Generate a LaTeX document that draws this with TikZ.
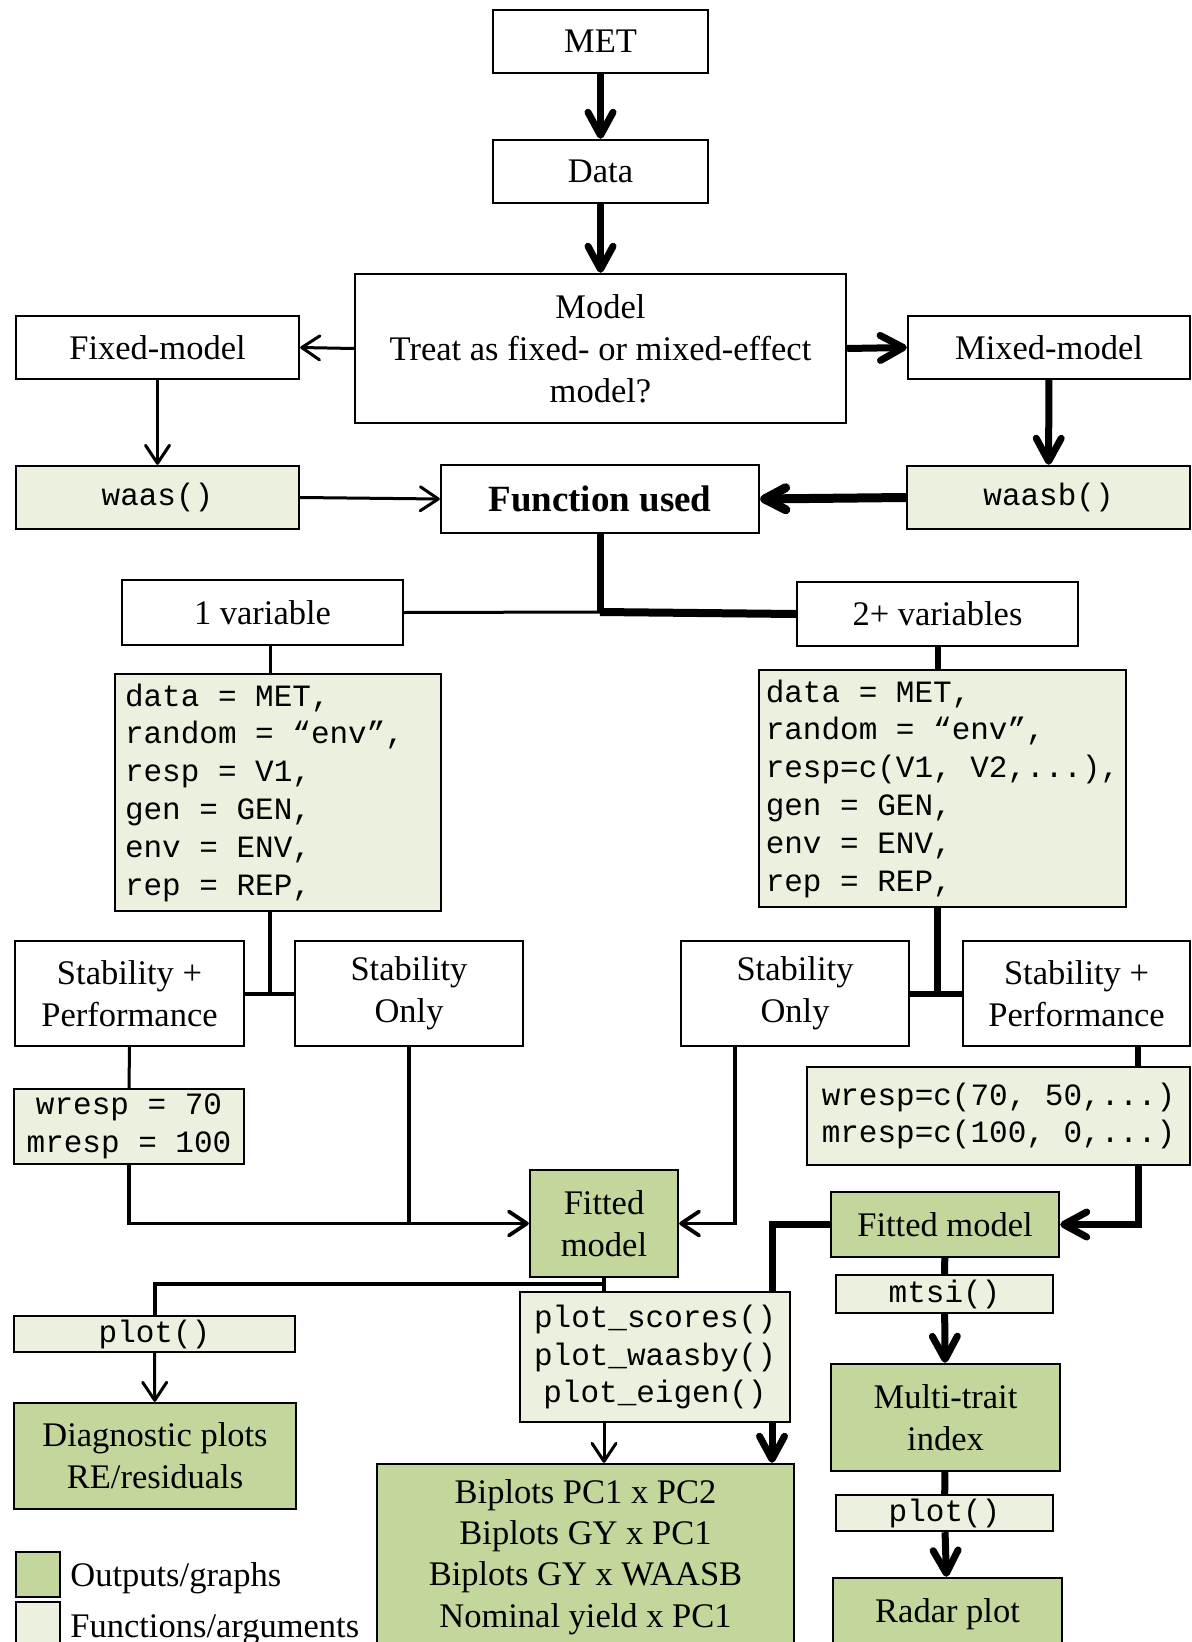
\documentclass[tikz,border=0pt]{standalone}
\usepackage{fontspec}
\setmainfont{Liberation Serif}
\setmonofont{Liberation Mono}
\usetikzlibrary{arrows.meta,calc}
\definecolor{outgreen}{HTML}{C3D69B}
\definecolor{funlight}{HTML}{EBF1DE}
\newcommand{\txtfont}{\fontsize{17.25pt}{21pt}\selectfont}
\newcommand{\codefnt}{\fontsize{15.5pt}{18.9pt}\selectfont\ttfamily}
\newcommand{\boldfnt}{\fontsize{18.5pt}{22pt}\selectfont\bfseries}
\begin{document}
\begin{tikzpicture}[x=0.5pt,y=-0.5pt,
  corners/.style n args={4}{minimum width={(#3-#1)*0.5pt}, minimum height={(#4-#2)*0.5pt}},
  boxbase/.style={draw, line width=1.2pt, inner sep=0pt, align=center},
  plainbox/.style={boxbase, fill=white, font=\txtfont},
  outbox/.style={boxbase, fill=outgreen, font=\txtfont},
  funbox/.style={boxbase, fill=funlight, font=\codefnt},
  lnA/.style={line width=1.5pt},
  lnB/.style={line width=2pt},
  lnC/.style={line width=3pt},
  lnD/.style={line width=3.5pt},
  arA/.style={line width=1.5pt, -{Straight Barb[length=9pt,width=12pt,round]}},
  arB/.style={line width=1.9pt, -{Straight Barb[length=9pt,width=12pt,round]}},
  arD/.style={line width=3.5pt, -{Straight Barb[length=11.5pt,width=12.5pt,round]}},
  arE/.style={line width=4.5pt, -{Straight Barb[length=10.5pt,width=11pt,round]}},
]
\useasboundingbox (0,0) rectangle (1192,1642);
\clip (0,0) rectangle (1192,1642);

% ---------- nodes (centre, then corners x1 y1 x2 y2) ----------
\node[plainbox, corners={493}{10}{708}{73}] (met) at (600.5,41.5) {MET};
\node[plainbox, corners={493}{140}{708}{203}] (data) at (600.5,171.5) {Data};
\node[plainbox, corners={355}{274}{846}{423}] (model) at (600.5,348.5) {Model\\Treat as fixed- or mixed-effect\\model?};
\node[plainbox, corners={16}{316}{299}{379}] (fixed) at (157.5,347.5) {Fixed-model};
\node[plainbox, corners={908}{316}{1190}{379}] (mixed) at (1049,347.5) {Mixed-model};
\node[funbox, corners={16}{466}{299}{529}] (waas) at (157.5,497.5) {waas()};
\node[funbox, corners={907}{466}{1190}{529}] (waasb) at (1048.5,497.5) {waasb()};
\node[plainbox, font=\boldfnt, corners={441}{465}{759}{533}] (func) at (600,499) {Function used};
\node[plainbox, corners={122}{580}{403}{645}] (var1) at (262.5,612.5) {1 variable};
\node[plainbox, corners={797}{582}{1078}{646}] (var2) at (937.5,614) {2+ variables};
\node[funbox, align=left, corners={115}{674}{441}{911}] (code1) at (278,792.5)
  {\makebox[153pt][l]{data = MET,}\\random = “env”,\\resp = V1,\\gen = GEN,\\env = ENV,\\rep = REP,};
\node[funbox, align=left, corners={759}{670}{1126}{907}] (code2) at (942.5,788.5)
  {\makebox[175pt][l]{data = MET,}\\random = “env”,\\resp=c(V1, V2,...),\\gen = GEN,\\env = ENV,\\rep = REP,};
\node[plainbox, corners={15}{941}{244}{1046}] (sp1) at (129.5,993.5) {Stability +\\Performance};
\node[plainbox, corners={295}{941}{523}{1046}] (so1) at (409,993.5) {Stability\\Only};
\node[plainbox, corners={681}{941}{909}{1046}] (so2) at (795,993.5) {Stability\\Only};
\node[plainbox, corners={963}{941}{1190}{1046}] (sp2) at (1076.5,993.5) {Stability +\\Performance};
\node[funbox, corners={14}{1089}{244}{1164}] (w1) at (129,1126.5) {wresp = 70\\mresp = 100};
\node[funbox, corners={807}{1067}{1190}{1165}] (w2) at (998.5,1116) {wresp=c(70, 50,...)\\mresp=c(100, 0,...)};
\node[outbox, corners={530}{1170}{678}{1277}] (fit1) at (604,1223.5) {Fitted\\model};
\node[outbox, corners={831}{1192}{1059}{1257}] (fit2) at (945,1224.5) {Fitted model};
\node[funbox, corners={836}{1275}{1053}{1313}] (mtsi) at (944.5,1294) {mtsi()};
\node[funbox, corners={14}{1316}{295}{1352}] (plotL) at (154.5,1334) {plot()};
\node[funbox, corners={520}{1291}{790}{1421}] (pbox) at (655,1357) {plot\_scores()\\plot\_waasby()\\plot\_eigen()};
\node[outbox, corners={14}{1403}{296}{1509}] (diag) at (155,1456) {Diagnostic plots\\RE/residuals};
\node[outbox, font=\fontsize{17.25pt}{20.7pt}\selectfont, corners={377}{1464}{794}{1650}] (bip) at (585.5,1557)
  {Biplots PC1 x PC2\\Biplots GY x PC1\\Biplots GY x WAASB\\Nominal yield x PC1};
\node[outbox, corners={831}{1364}{1060}{1471}] (mti) at (945.5,1417.5) {Multi-trait\\index};
\node[funbox, corners={836}{1495}{1053}{1531}] (plotR) at (944.5,1513) {plot()};
\node[outbox, corners={833}{1578}{1062}{1650}] (radar) at (947.5,1614) {Radar plot};

% legend
\node[outbox, corners={16}{1552}{60}{1597}] (leg1) at (38,1574.5) {};
\node[funbox, corners={16}{1602}{60}{1647}] (leg2) at (38,1624.5) {};
\node[anchor=base west, inner sep=0pt, font=\txtfont] (legt1) at (70,1586) {Outputs/graphs};
\node[anchor=base west, inner sep=0pt, font=\txtfont] (legt2) at (70,1637) {Functions/arguments};

% ---------- coordinates ----------
\coordinate (jn) at (600,612);
\coordinate (v1x) at (270,645);
\coordinate (so2x) at (735,1046);
\coordinate (sp2x) at (1138,1046);
\coordinate (thk) at (772,1291);
\coordinate (br) at (604,1284);

% ---------- connectors ----------
\draw[arD] (met) -- (data);
\draw[arD] (data) -- (model);
\draw[arA] (model.west) -- (fixed.east);
\draw[arD] (model.east) -- (mixed.west);
\draw[arA] (fixed) -- (waas);
\draw[arD] (mixed) -- (waasb);
\draw[arA] (waas.east) -- (func.west);
\draw[arE] (waasb.west) -- (func.east);

\draw[lnD] (func.south) -- (jn);
\draw[lnA] (jn) -- (var1.east);
\draw[line width=4pt] (jn) -- (var2.west);

\draw[lnA] (v1x) -- (v1x |- code1.north);
\draw[line width=1.7pt] (v1x |- code1.south) -- (v1x |- sp1.east);
\draw[lnB] (sp1.east) -- (so1.west);

\draw[lnC] (var2.south) -- (var2.south |- code2.north);
\draw[lnD] (var2.south |- code2.south) -- (var2.south |- so2.east);
\draw[lnC] (so2.east) -- (sp2.west);

\draw[lnA] (sp1.south) -- (w1.north);
\draw[arB] (w1.south) |- (fit1.west);
\draw[lnB] (so1.south) -- (so1.south |- fit1.west);
\draw[arB] (so2x) |- (fit1.east);

\draw[lnC] (sp2x) -- (sp2x |- w2.north);
\draw[arD] (w2.south -| sp2x) |- (fit2.east);

\draw[lnD] (fit2.west) -| (thk);
\draw[arD] (thk |- pbox.south) -- (thk |- bip.north);

\draw[lnB] (fit1.south) -- (fit1.south |- pbox.north);
\draw[lnB] (br) -| (plotL.north);
\draw[arA] (plotL) -- (diag);
\draw[arA] (pbox.south -| fit1.south) -- (bip.north -| fit1.south);

\draw[lnD] (fit2) -- (mtsi);
\draw[arD] (mtsi) -- (mti);
\draw[lnD] (mti) -- (plotR);
\draw[arD] (plotR) -- (radar);
\end{tikzpicture}
\end{document}
